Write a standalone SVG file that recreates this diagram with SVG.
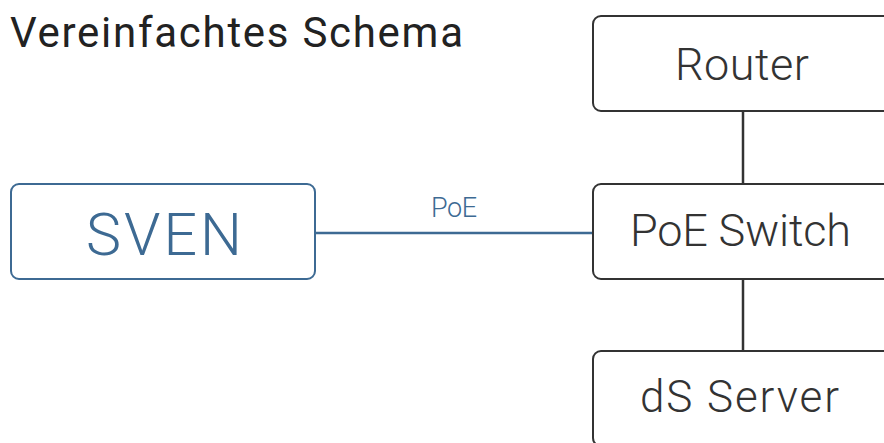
<svg xmlns="http://www.w3.org/2000/svg" width="884" height="443" viewBox="0 0 884 443">
<style>
.box{fill:#fff;stroke:#333;stroke-width:2}
.lbl{font-family:Roboto,"Liberation Sans",sans-serif;font-weight:300;fill:#333}
</style>
<rect width="884" height="443" fill="#fff"/>
<text x="10" y="47" font-family="Roboto,'Liberation Sans',sans-serif" font-weight="400" font-size="42" fill="#222" textLength="453" lengthAdjust="spacing">Vereinfachtes Schema</text>
<g id="connectors">
<line x1="743" y1="111" x2="743" y2="184" stroke="#333" stroke-width="2.5"/>
<line x1="743" y1="279" x2="743" y2="351" stroke="#333" stroke-width="2.5"/>
<line x1="315" y1="233" x2="593" y2="233" stroke="#3d6a93" stroke-width="2.5"/>
<text x="431" y="217" class="lbl" font-size="27" style="fill:#3d6a93" textLength="46" lengthAdjust="spacing">PoE</text>
</g>
<g id="sven">
<rect x="11" y="184" width="304" height="95" rx="8" class="box" style="stroke:#3d6a93"/>
<text x="86" y="255" class="lbl" font-size="59" style="fill:#3d6a93" textLength="156" lengthAdjust="spacing">SVEN</text>
</g>
<g id="router">
<rect x="593" y="16" width="304" height="95" rx="8" class="box"/>
<text x="675" y="80" class="lbl" font-size="45" textLength="134" lengthAdjust="spacing">Router</text>
</g>
<g id="switch">
<rect x="593" y="184" width="304" height="95" rx="8" class="box"/>
<text x="630" y="246" class="lbl" font-size="45" textLength="221" lengthAdjust="spacing">PoE Switch</text>
</g>
<g id="server">
<rect x="593" y="351" width="304" height="95" rx="8" class="box"/>
<text x="640" y="412" class="lbl" font-size="44" textLength="199" lengthAdjust="spacing">dS Server</text>
</g>
</svg>
